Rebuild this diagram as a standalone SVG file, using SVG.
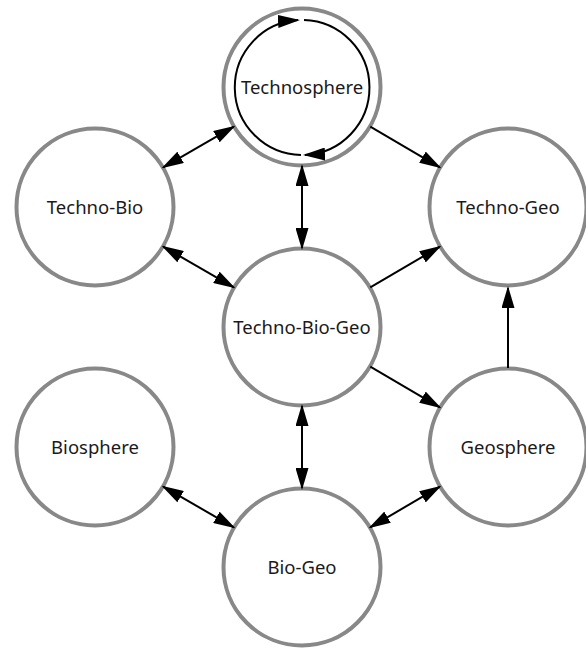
<svg xmlns="http://www.w3.org/2000/svg" width="586" height="648" viewBox="0 0 586 648">
  <style>
    .node circle { fill: #fff; stroke: #888; stroke-width: 4; }
    .node text { font-family: "Noto Sans", "Open Sans", sans-serif; font-size: 18.5px; fill: #1a1a1a; text-anchor: middle; }
    .conn { stroke: #000; stroke-width: 2; fill: none; }
    .one { marker-end: url(#arrow); }
    .two { marker-start: url(#arrow); marker-end: url(#arrow); }
  </style>
  <defs>
    <marker id="arrow" markerUnits="userSpaceOnUse" markerWidth="22" markerHeight="13" refX="20" refY="6.5" orient="auto-start-reverse" viewBox="0 0 22 13">
      <path d="M0,0 L22,6.5 L0,13 z" fill="#000"/>
    </marker>
  </defs>
  <rect width="586" height="648" fill="#fff"/>

  <g id="technosphere" class="node">
    <circle cx="302" cy="87" r="78.5"/>
    <path class="conn one" d="M301,154.97 A67.5 67.5 0 0 1 298,20.12"/>
    <path class="conn one" d="M304,20.03 A67.5 67.5 0 0 1 305,154.93"/>
    <text x="302" y="93.5">Technosphere</text>
  </g>
  <g id="techno-bio" class="node">
    <circle cx="95" cy="207" r="78.5"/>
    <text x="95" y="213.5">Techno-Bio</text>
  </g>
  <g id="techno-geo" class="node">
    <circle cx="508" cy="207" r="78.5"/>
    <text x="508" y="213.5">Techno-Geo</text>
  </g>
  <g id="techno-bio-geo" class="node">
    <circle cx="302" cy="327" r="78.5"/>
    <text x="302" y="333.5">Techno-Bio-Geo</text>
  </g>
  <g id="biosphere" class="node">
    <circle cx="95" cy="447" r="78.5"/>
    <text x="95" y="453.5">Biosphere</text>
  </g>
  <g id="geosphere" class="node">
    <circle cx="508" cy="447" r="78.5"/>
    <text x="508" y="453.5">Geosphere</text>
  </g>
  <g id="bio-geo" class="node">
    <circle cx="302" cy="567" r="78.5"/>
    <text x="302" y="573.5">Bio-Geo</text>
  </g>

  <g id="connectors">
    <line class="conn two" x1="163.3" y1="167.3" x2="233.7" y2="126.7"/>
    <line class="conn one" x1="370.3" y1="126.7" x2="439.7" y2="167.3"/>
    <line class="conn two" x1="302" y1="166" x2="302" y2="248"/>
    <line class="conn two" x1="163.3" y1="246.7" x2="233.7" y2="287.3"/>
    <line class="conn one" x1="370.3" y1="287.3" x2="439.7" y2="246.7"/>
    <line class="conn one" x1="370.3" y1="366.7" x2="439.7" y2="407.3"/>
    <line class="conn one" x1="508" y1="368" x2="508" y2="288"/>
    <line class="conn two" x1="302" y1="406" x2="302" y2="488"/>
    <line class="conn two" x1="163.3" y1="486.7" x2="233.7" y2="527.3"/>
    <line class="conn two" x1="439.7" y1="486.7" x2="370.3" y2="527.3"/>
  </g>
</svg>
